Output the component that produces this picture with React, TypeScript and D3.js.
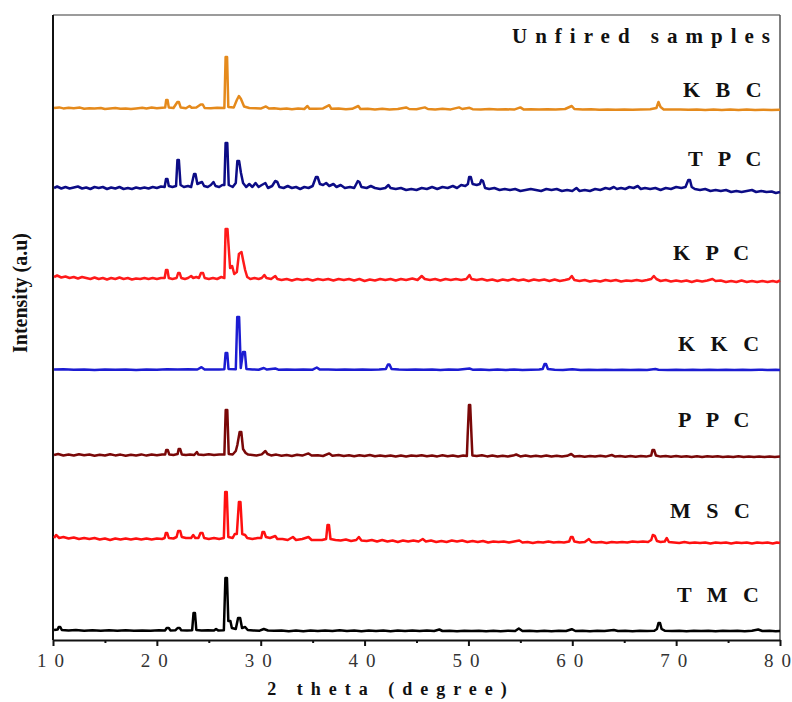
import React, { useEffect, useRef } from "react";
import * as d3 from "d3";

// 2-theta values and intensity (a.u.) above each pattern's own zero
const kbc: [number, number][] = [
  [10.1,2],[10.6,2.6],[11,1.6],[11.5,2.2],[12,1.8],[12.6,2.4],[13,1.2],[13.5,1.8],[14,1.4],[14.6,2],[15,1],[15.5,1.6],[16,2],[16.5,1.2],[17,1.6],[17.5,1],[18,1.5],[18.6,2.2],[19,1.6],[19.5,2.4],[20,1.8],[20.5,2.2],
  [20.8,2.4],[20.9,10],[21.03,10],[21.15,2.6],[21.6,2],[21.98,8],[22.12,8],[22.3,2.4],[22.8,1.8],[23.15,4],[23.35,2.2],[23.8,2.4],[24.22,5.5],[24.42,5.5],[24.6,2],[25.2,1.8],[25.8,2.2],[26.5,2],[26.62,53],[26.76,53],[26.88,3],[27.4,2.4],[27.7,10],[27.9,14],[28.1,11],[28.4,3.5],[28.9,2],[29.5,1.8],[30,1.4],[30.5,3.6],[30.8,1.4],[31.3,1.8],[31.9,1],[32.5,1.4],[33,0.8],[33.6,1.4],[34.2,1],[34.5,4],[34.7,1.2],[35.3,1.2],[36,1.6],[36.6,4.8],[36.8,1.2],[37.5,1.4],[38.2,0.8],[38.8,1.2],[39.4,4],[39.6,1],[40.3,1.2],[41,0.6],[41.7,1.2],[42.4,0.6],[43.2,1],[44,2.6],[44.3,1],[45,0.8],[45.8,2.6],[46.1,1],[46.8,0.6],[47.5,1.2],[48.3,0.6],[49.1,2.6],[49.4,1],[50.1,2.2],[50.4,0.8],[51.2,0.6],[52,1],[52.8,0.4],[53.6,0.8],[54.4,0.4],[55,2.6],[55.3,0.6],[56,0.8],[56.8,0.4],[57.6,0.8],[58.4,0.4],[59.3,1],[59.95,4],[60.2,1],[61,0.4],[61.8,0.8],[62.6,0.2],[63.4,0.6],[64.2,0.2],[65,0.6],[65.8,0.2],[66.6,0.6],[67.5,0.8],[68.1,2],[68.3,8],[68.5,3],[68.8,0.6],[69.6,0.4],[70.4,0.6],[71.2,0.2],[72,0.5],[72.8,0],[73.6,0.4],[74.4,0.1],[75.2,0.5],[76,0],[76.8,0.4],[77.6,0],[78.4,0.3],[79.2,0],[80,0.2],
];

const tpc: [number, number][] = [
  [10.1,5],[10.4,6.5],[10.8,4.5],[11.2,6],[11.6,4.5],[12,5.5],[12.4,6.5],[12.8,4.5],[13.2,5.5],[13.6,4],[14,6],[14.4,5],[14.8,6],[15.2,4],[15.6,5.5],[16,4.5],[16.4,6],[16.8,4],[17.2,5],[17.6,4],[18,5.5],[18.4,4.5],[18.8,5.5],[19.2,4.5],[19.6,6],[20,5],[20.4,6.5],[20.75,6],
  [20.88,14],[21.02,14],[21.15,7],[21.5,6],[21.85,7],[21.98,33],[22.12,33],[22.28,8],[22.6,6],[23,7],[23.3,6],[23.58,19],[23.72,19],[23.9,9],[24.1,10],[24.35,11],[24.55,7],[24.9,6],[25.2,8],[25.45,11],[25.65,7],[26,6],[26.3,8],[26.5,8],[26.62,50],[26.78,50],[26.92,8],[27.3,6],[27.6,10],[27.75,32],[27.92,32],[28.1,20],[28.3,10],[28.6,6],[28.9,9],[29.2,6],[29.5,10],[29.8,6],[30.1,8],[30.45,10],[30.7,5],[31.1,7],[31.4,12],[31.6,11],[31.8,6],[32.2,5],[32.6,7],[33,5],[33.4,6],[33.8,4],[34.2,6],[34.6,5],[35,7],[35.32,16],[35.48,16],[35.7,9],[36,8],[36.3,10],[36.6,7],[37,9],[37.3,6],[37.7,8],[38.1,5],[38.6,6],[39,5],[39.35,12],[39.5,11],[39.7,6],[40.2,5],[40.6,7],[41,5],[41.5,4],[42,5],[42.3,8],[42.5,5],[43,4],[43.5,5],[44,3],[44.5,4],[45,3],[45.5,5],[46,4],[46.5,6],[47,4],[47.5,6],[48,5],[48.5,7],[48.9,5],[49.3,8],[49.7,7],[49.95,9],[50.07,16],[50.23,16],[50.4,9],[50.8,8],[51.1,9],[51.25,13],[51.4,12],[51.6,5],[52,4],[52.5,5],[53,3],[53.5,4],[54,3],[54.5,4],[55,2],[55.5,3],[56,4],[56.5,3],[57,2],[57.5,4],[58,3],[58.5,4],[59,2],[59.5,3],[60,2],[60.4,5],[60.7,2],[61.2,3],[61.7,2],[62.2,4],[62.7,3],[63.2,5],[63.6,4],[64,6],[64.3,4],[64.7,5],[65.1,4],[65.5,6],[65.9,5],[66.3,7],[66.6,4],[67,5],[67.5,4],[68,5],[68.5,3],[69,5],[69.5,4],[70,6],[70.5,5],[70.9,6],[71.17,13],[71.33,13],[71.5,6],[71.8,4],[72.3,3],[72.8,4],[73.3,2],[73.8,3],[74.3,2],[74.8,3],[75.3,1],[75.8,2],[76.3,1],[76.8,2],[77.3,3],[77.7,1],[78.2,2],[78.7,1],[79.2,1.5],[79.6,0],[80,1],
];

const kpc: [number, number][] = [
  [10.1,5],[10.4,6.5],[10.8,4.5],[11.2,5.5],[11.6,4],[12,5],[12.4,3.5],[12.8,5],[13.2,4],[13.6,3],[14,4.5],[14.4,3],[14.8,4],[15.2,2.5],[15.6,4],[16,3],[16.4,4.5],[16.8,3],[17.2,4],[17.6,2.5],[18,3.5],[18.4,3],[18.8,4],[19.2,3],[19.6,4],[20,3],[20.4,4],[20.75,4],
  [20.88,12],[21.02,12],[21.15,4],[21.5,3],[21.9,4],[22.05,9],[22.2,9],[22.35,4],[22.7,3],[23,4],[23.3,6],[23.5,4],[23.8,5],[24.05,4],[24.25,9],[24.45,9],[24.6,4],[25,3],[25.4,4],[25.8,3],[26.2,5],[26.5,4],[26.62,53],[26.8,53],[27.05,14],[27.25,16],[27.45,8],[27.7,10],[27.9,28],[28.15,30],[28.3,22],[28.5,12],[28.7,5],[29,3],[29.4,4],[29.8,3],[30.1,4],[30.35,7],[30.55,4],[31,3],[31.4,6],[31.6,3],[32,2],[32.5,3],[33,1.5],[33.5,3],[34,2],[34.5,3],[35,1.5],[35.5,3],[36,2],[36.5,3],[37,1.5],[37.5,3],[38,2],[38.5,3],[39,1.5],[39.5,3],[40,1],[40.5,2.5],[41,1.5],[41.5,3],[42,2],[42.5,3],[43,1.5],[43.5,3],[44,2],[44.6,3.5],[45.1,2],[45.5,6],[45.8,3],[46.3,2],[46.8,3],[47.3,1.5],[47.8,3],[48.3,2],[48.8,3],[49.3,2],[49.8,3],[50.1,7],[50.3,3],[50.8,2],[51.3,3],[51.8,1.5],[52.3,2.5],[52.8,1],[53.3,2.5],[53.8,1.5],[54.3,3],[54.8,1.5],[55.3,2.5],[55.8,1],[56.3,2.5],[56.8,1.5],[57.3,2.5],[57.8,1],[58.3,2.5],[58.8,1],[59.3,2],[59.7,3],[59.95,6],[60.2,2],[60.7,1],[61.2,2],[61.7,0.5],[62.2,1.5],[62.7,0.5],[63.2,2],[63.7,1],[64.2,2],[64.7,0.5],[65.2,1.5],[65.7,1],[66.2,2],[66.7,1],[67.2,2],[67.6,3],[67.85,6],[68.1,3],[68.5,1],[69,2],[69.5,0.5],[70,1.5],[70.5,0.5],[71,1.5],[71.5,0],[72,1.5],[72.5,0.5],[73,1.5],[73.5,3],[73.8,1],[74.3,1.5],[74.8,0],[75.3,1],[75.8,0],[76.3,1.5],[76.8,0],[77.3,1],[77.8,0],[78.3,1],[78.8,0],[79.3,1],[79.7,0],[80,1.5],
];

const kkc: [number, number][] = [
  [10.1,0.5],[11,0.8],[12,0.2],[13,0.6],[14,0],[15,0.5],[16,0.2],[17,0.6],[18,0.1],[19,0.5],[20,0.3],[21,0.8],[22,0.4],[23,0.7],[23.9,0.5],[24.3,2.8],[24.6,0.6],[25.3,0.4],[26,0.6],[26.5,0.8],[26.62,17],[26.78,17],[26.9,1],[27.6,0.8],[27.74,53],[27.92,53],[28.08,2],[28.3,18],[28.48,18],[28.62,1],[29.2,0.5],[29.8,0.3],[30.3,2],[30.6,0.4],[31.4,1.5],[31.7,0.3],[32.5,0.5],[33.3,0.2],[34.1,0.5],[35,0.3],[35.4,2.5],[35.7,0.4],[36.5,0.6],[37.3,0.2],[38.1,0.5],[39,0.2],[39.8,0.6],[40.6,0.3],[41.4,0.5],[42.05,1],[42.25,5.5],[42.4,5.5],[42.6,1],[43.3,0.4],[44.1,0.2],[44.9,0.5],[45.7,0.2],[46.5,0.5],[47.3,0.1],[48.1,0.4],[49,0.2],[50.1,1.5],[50.4,0.3],[51.2,0.4],[52,0],[52.8,0.4],[53.6,0.1],[54.4,0.4],[55.2,0.1],[56,0.3],[56.8,0.5],[57.15,1],[57.33,6],[57.47,6],[57.65,1],[58.3,0.3],[59.1,0],[60,0.8],[60.8,0.1],[61.6,0.3],[62.4,0],[63.2,0.3],[64,0],[64.8,0.3],[65.6,0],[66.4,0.3],[67.2,0],[68,1],[68.3,0.2],[69.2,0],[70,0.3],[70.8,0],[71.6,0.3],[72.4,0],[73.2,0.3],[74,0],[74.8,0.3],[75.6,0],[76.4,0.3],[77.2,0],[78,0.3],[78.8,0],[79.6,0.3],[80,0],
];

const ppc: [number, number][] = [
  [10.1,2],[10.5,3],[11,1.5],[11.5,2.5],[12,1.5],[12.5,2.8],[13,1.8],[13.5,2.5],[14,1.2],[14.5,2.2],[15,1.5],[15.5,2.8],[16,1.6],[16.5,2.4],[17,1.2],[17.5,2.2],[18,1.6],[18.5,2.6],[19,1.4],[19.5,2.4],[20,1.8],[20.5,2.6],[20.8,2.5],[20.9,7],[21.05,7],[21.2,2.4],[21.6,2],[22,3],[22.1,8],[22.25,8],[22.4,2.6],[22.8,2],[23.2,2.6],[23.6,2],[23.85,5],[24,2.4],[24.5,2],[25,2.8],[25.5,2],[26,2.6],[26.5,2.4],[26.63,47],[26.78,47],[26.92,3],[27.3,2.5],[27.6,6],[27.75,12],[27.97,25],[28.13,25],[28.3,8],[28.55,4],[28.8,2.4],[29.2,2],[29.6,1.5],[30.1,2.6],[30.45,6],[30.65,3],[31,1.6],[31.5,2.4],[32,1.2],[32.5,2],[33,1],[33.5,2.2],[34,1.4],[34.6,3.6],[34.9,1.4],[35.5,1.8],[36,1],[36.6,3.6],[36.9,1.2],[37.5,2],[38,1],[38.5,1.8],[39,0.8],[39.5,1.8],[40,1],[40.5,2],[41,0.8],[41.5,1.6],[42,0.8],[42.5,1.6],[43,0.6],[43.5,1.4],[44,0.6],[44.5,1.6],[45,1],[45.5,1.8],[46,0.8],[46.5,1.6],[47,0.6],[47.5,1.8],[48,0.8],[48.5,1.6],[49,0.6],[49.5,1.4],[49.85,1],[49.92,20],[50.05,52],[50.17,52],[50.3,20],[50.38,1.5],[50.8,1],[51.3,1.8],[51.8,0.6],[52.3,1.4],[52.8,0.4],[53.3,1.2],[53.8,0.6],[54.3,1.4],[54.6,2.5],[55,0.6],[55.5,1.4],[56,0.4],[56.5,1.2],[57,0.6],[57.5,1.4],[58,0.4],[58.5,1.2],[59,0.4],[59.5,1.2],[59.9,3],[60.2,0.6],[60.7,1],[61.2,0.2],[61.7,1],[62.2,0.4],[62.7,1.2],[63.2,0.4],[63.8,2],[64.1,0.6],[64.6,1],[65.1,0.2],[65.6,1],[66.1,0.2],[66.6,1],[67.1,0.4],[67.6,1.5],[67.72,7],[67.88,7],[68.05,1.5],[68.5,0.4],[69,1],[69.5,0.2],[70,1],[70.5,0.2],[71,0.8],[71.5,0],[72,0.8],[72.5,0],[73,0.8],[73.5,0.2],[74,0.8],[74.5,0],[75,0.6],[75.5,0],[76,0.8],[76.5,0],[77,0.6],[77.5,0],[78,0.6],[78.5,0],[79,0.6],[79.5,0],[80,0.4],
];

const msc: [number, number][] = [
  [10.1,5],[10.3,8],[10.6,5],[11,6],[11.5,4.5],[12,5.5],[12.5,4],[13,5],[13.5,4],[14,5],[14.5,3.5],[15,4.5],[15.5,3],[16,4.5],[16.5,3.5],[17,4.5],[17.5,3.5],[18,4.5],[18.5,3.5],[19,4.5],[19.5,3.5],[20,4.5],[20.5,4],[20.75,5],[20.86,10],[21,10],[21.15,5],[21.6,4.5],[21.9,6],[22.05,12],[22.25,12],[22.4,6],[22.8,5],[23.3,5],[23.5,8],[23.7,5],[24,5],[24.2,10],[24.4,10],[24.55,5],[25,4],[25.5,5],[26,4],[26.45,5],[26.58,51],[26.73,51],[26.88,6],[27.3,5],[27.5,9],[27.7,9],[27.9,41],[28.05,41],[28.22,9],[28.5,8],[28.7,5],[29.2,4],[29.7,5],[30.05,5],[30.17,11],[30.33,11],[30.5,6],[30.9,5],[31.4,7],[31.6,4],[32.1,4],[32.6,3],[33.1,6],[33.4,3],[34,4],[34.6,6],[34.9,3],[35.4,3],[35.9,3],[36.3,4],[36.43,18],[36.57,18],[36.72,4],[37.2,3],[37.7,2.5],[38.2,3.5],[38.7,2],[39.2,3],[39.45,6],[39.7,2.5],[40.2,2],[40.7,3],[41.2,1.5],[41.7,3],[42.2,1.5],[42.7,2.5],[43.2,1],[43.7,2.5],[44.2,1.5],[44.7,2.5],[45.2,1.5],[45.6,4],[45.9,1.5],[46.4,2.5],[46.9,1],[47.4,2],[47.9,1],[48.4,2.5],[48.9,1.5],[49.4,2.5],[49.9,1],[50.4,2],[50.9,1],[51.4,2],[51.9,0.5],[52.4,1.5],[52.9,1],[53.4,1.5],[53.9,0.5],[54.4,1.5],[54.9,2.5],[55.2,0.5],[55.7,1],[56.2,0],[56.7,1],[57.2,0.5],[57.7,1.5],[58.2,0.5],[58.7,1],[59.2,0.5],[59.7,1.5],[59.87,6],[60.03,6],[60.2,1.5],[60.7,0.5],[61.2,1],[61.6,4],[61.85,1],[62.3,0.5],[62.8,1],[63.3,0],[63.8,1],[64.3,0.5],[64.8,1],[65.3,0.5],[65.8,1.5],[66.3,1],[66.8,1.5],[67.3,1],[67.6,3],[67.75,8],[67.95,7],[68.15,2],[68.5,1],[68.9,1.5],[69.1,5],[69.3,1],[69.8,0.5],[70.3,0],[70.8,1],[71.3,0],[71.8,0.5],[72.3,0],[72.8,0.5],[73.3,-0.5],[73.8,0.5],[74.3,0],[74.8,0.5],[75.3,-0.5],[75.8,0.5],[76.3,0],[76.8,0.5],[77.3,-0.5],[77.8,0.5],[78.3,0],[78.8,0.5],[79.3,-0.5],[79.7,0.5],[80,0],
];

const tmc: [number, number][] = [
  [10.1,1],[10.45,1.5],[10.55,4],[10.7,4],[10.85,1],[11.5,0.5],[12.2,1],[13,0.3],[13.8,0.8],[14.6,0.2],[15.4,0.7],[16.2,0.2],[17,0.7],[17.8,0.2],[18.6,0.6],[19.4,0.2],[20.2,0.8],[20.8,0.6],[20.95,3],[21.15,3],[21.3,0.6],[21.8,0.8],[22,3],[22.2,3],[22.35,0.8],[22.9,0.5],[23.4,0.8],[23.53,18],[23.67,18],[23.8,1],[24.3,0.6],[24.9,0.8],[25.5,0.5],[25.7,2],[25.9,0.6],[26.45,0.8],[26.6,53],[26.75,53],[26.88,10],[27.08,10],[27.22,3],[27.6,2],[27.82,13],[28.02,13],[28.2,3],[28.5,4],[28.75,1],[29.3,0.6],[29.9,0.3],[30.3,2],[30.7,0.5],[31.3,0.2],[32,0.6],[32.7,-0.3],[33.4,0.4],[34.1,-0.2],[34.8,0.5],[35.5,0],[36.2,0.6],[36.9,0.1],[37.6,0.8],[38.3,0],[39,0.5],[39.7,-0.2],[40.4,0.4],[41.1,0],[41.8,0.5],[42.5,-0.2],[43.2,0.4],[43.9,0],[44.6,0.4],[45.3,-0.1],[46,0.4],[46.7,0],[47.2,1.5],[47.5,0],[48.2,0.3],[48.9,-0.2],[49.6,0.3],[50.3,0],[51,0.3],[51.7,-0.2],[52.4,0.2],[53.1,-0.2],[53.8,0.3],[54.5,0],[54.85,2.5],[55.2,0],[55.9,0.3],[56.6,-0.2],[57.3,0.2],[58,-0.2],[58.7,0.2],[59.4,0],[59.95,1.8],[60.3,0],[61,0.3],[61.7,-0.2],[62.4,0.2],[63.1,0],[64,1],[64.4,0],[65.1,0.2],[65.8,-0.2],[66.5,0.2],[67.2,0],[67.9,0.3],[68.15,2],[68.3,8],[68.45,8],[68.6,2],[68.9,0.3],[69.6,0],[70.3,0.2],[71,-0.2],[71.7,0.2],[72.4,0],[73.1,0.2],[73.8,-0.2],[74.5,0.2],[75.2,0],[75.9,0.2],[76.6,-0.2],[77.3,0.3],[77.9,1.5],[78.3,0],[79,0.2],[79.6,-0.2],[80,0],
];

const SAMPLE_NAMES = ["K B C", "T P C", "K P C", "K K C", "P P C", "M S C", "T M C"];
const SAMPLE_DATA = [kbc, tpc, kpc, kkc, ppc, msc, tmc];
const SAMPLE_OFFSETS = [530, 447, 358, 270, 183, 97, 9];
const THETA_TICKS = [10, 20, 30, 40, 50, 60, 70, 80];
const THETA_MINOR = [15, 25, 35, 45, 55, 65, 75];

const COLORS = ["#e58a1c", "#0c0c86", "#ff1a1a", "#1c1cd2", "#7a0808", "#ff1010", "#000000"];
// label anchor (x start, baseline y) in px
const LABEL_POS = [
  [683, 97], [688, 166], [673, 260], [678, 351], [678, 427], [670, 518], [677, 602],
];

const WIDTH = 792;
const HEIGHT = 702;
const MARGIN = { TOP: 15, RIGHT: 12, BOTTOM: 62, LEFT: 53 };
const SERIF = "'Liberation Serif', 'Times New Roman', serif";

const App = () => {
  const svgRef = useRef<SVGSVGElement>(null);

  useEffect(() => {
    const svg = d3.select(svgRef.current);
    svg.selectAll("*").remove();

    const x0 = MARGIN.LEFT;
    const x1 = WIDTH - MARGIN.RIGHT;
    const y0 = HEIGHT - MARGIN.BOTTOM;
    const y1 = MARGIN.TOP;

    const xScale = d3.scaleLinear().domain([10, 80]).range([x0, x1]);
    const yScale = d3.scaleLinear().domain([0, 625]).range([y0, y1]);

    // frame
    svg.append("line").attr("x1", x0).attr("x2", x1).attr("y1", y1).attr("y2", y1)
      .attr("stroke", "#7a7a7a").attr("stroke-width", 1.5);
    svg.append("line").attr("x1", x1).attr("x2", x1).attr("y1", y1).attr("y2", y0)
      .attr("stroke", "#555").attr("stroke-width", 1.5);
    svg.append("line").attr("x1", x0).attr("x2", x0).attr("y1", y1).attr("y2", y0)
      .attr("stroke", "#111").attr("stroke-width", 2);

    // patterns
    const line = d3.line<[number, number]>();
    SAMPLE_DATA.forEach((data, i) => {
      const off = SAMPLE_OFFSETS[i];
      line.x((d) => xScale(d[0])).y((d) => yScale(d[1] + off));
      svg.append("path")
        .attr("d", line(data))
        .attr("fill", "none")
        .attr("stroke", COLORS[i])
        .attr("stroke-width", 2.5)
        .attr("stroke-linejoin", "round");
      svg.append("text")
        .attr("x", LABEL_POS[i][0])
        .attr("y", LABEL_POS[i][1])
        .attr("font-family", SERIF)
        .attr("font-weight", "bold")
        .attr("font-size", 22)
        .attr("letter-spacing", 5)
        .attr("fill", "#111")
        .text(SAMPLE_NAMES[i]);
    });

    // x axis
    const minorAxis = d3.axisBottom(xScale).tickValues(THETA_MINOR).tickSize(3).tickSizeOuter(0).tickFormat(() => "");
    svg.append("g").attr("transform", `translate(0,${y0})`).call(minorAxis)
      .call((g) => g.select(".domain").remove())
      .call((g) => g.selectAll("line").attr("stroke", "#111").attr("stroke-width", 2));

    const xAxis = d3.axisBottom(xScale).tickValues(THETA_TICKS).tickSize(6).tickSizeOuter(0).tickPadding(8)
      .tickFormat(d3.format("d"));
    const gx = svg.append("g").attr("transform", `translate(0,${y0})`).call(xAxis);
    gx.select(".domain").attr("stroke", "#111").attr("stroke-width", 2);
    gx.selectAll("line").attr("stroke", "#111").attr("stroke-width", 2);
    // spaced digits, no trailing spacing after the last one
    gx.selectAll<SVGTextElement, number>("text")
      .attr("dx", -3)
      .attr("font-family", SERIF)
      .attr("font-size", 19)
      .attr("fill", "#333")
      .each(function (d) {
        const s = String(d);
        const t = d3.select(this);
        t.text(null);
        t.append("tspan").style("letter-spacing", "8px").text(s.slice(0, -1));
        t.append("tspan").text(s.slice(-1));
      });

    // titles
    svg.append("text")
      .attr("x", 391)
      .attr("y", 695)
      .attr("text-anchor", "middle")
      .attr("font-family", SERIF)
      .attr("font-weight", "bold")
      .attr("font-size", 18)
      .attr("letter-spacing", 8)
      .attr("fill", "#111")
      .text("2 theta (degree)");

    svg.append("text")
      .attr("transform", "translate(27,293) rotate(-90)")
      .attr("text-anchor", "middle")
      .attr("font-family", SERIF)
      .attr("font-weight", "bold")
      .attr("font-size", 20)
      .attr("fill", "#111")
      .text("Intensity (a.u)");

    svg.append("text")
      .attr("x", 512)
      .attr("y", 43)
      .attr("font-family", SERIF)
      .attr("font-weight", "bold")
      .attr("font-size", 21)
      .attr("letter-spacing", 8)
      .attr("fill", "#111")
      .text("Unfired samples");
  }, []);

  return (
    <svg
      ref={svgRef}
      width={WIDTH}
      height={HEIGHT}
      style={{ position: "absolute", left: 0, top: 0, background: "#fff" }}
    />
  );
};

export default App;
